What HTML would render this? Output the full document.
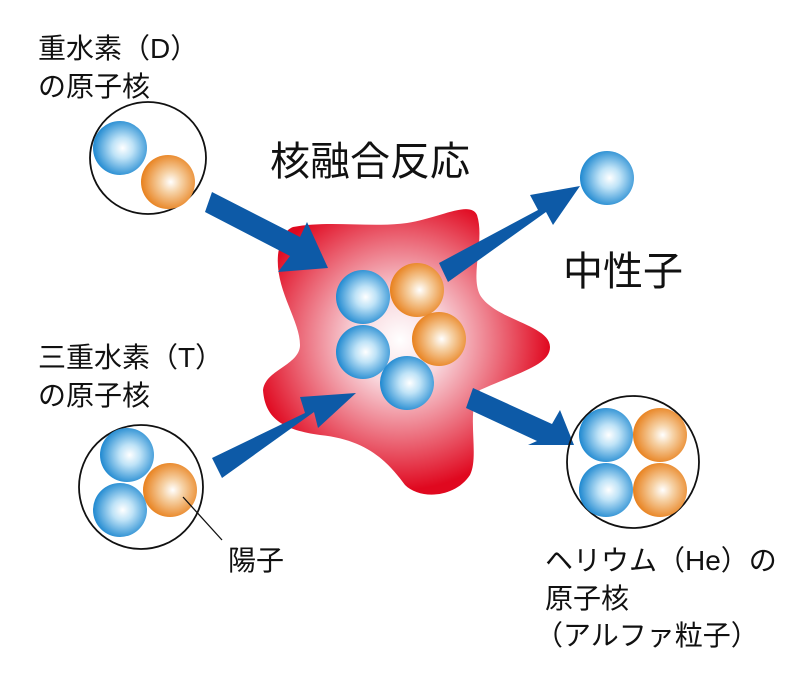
<!DOCTYPE html>
<html><head><meta charset="utf-8"><style>
html,body{margin:0;padding:0;background:#fff}
svg{display:block}
text{font-family:"Liberation Sans","Noto Sans CJK JP",sans-serif;fill:#111}
</style></head><body>
<svg width="800" height="679" viewBox="0 0 800 679" xmlns="http://www.w3.org/2000/svg">
<defs>
<radialGradient id="b" cx="0.55" cy="0.5" r="0.55"><stop offset="0" stop-color="#fff"/><stop offset="0.35" stop-color="#bfe3f7"/><stop offset="1" stop-color="#1e88d0"/></radialGradient>
<radialGradient id="o" cx="0.55" cy="0.5" r="0.55"><stop offset="0" stop-color="#fff"/><stop offset="0.35" stop-color="#f6d2a6"/><stop offset="1" stop-color="#e8801c"/></radialGradient>
<radialGradient id="r" cx="400" cy="340" r="150" gradientUnits="userSpaceOnUse"><stop offset="0" stop-color="#fff"/><stop offset="0.3" stop-color="#f8d6dc"/><stop offset="1" stop-color="#e0081f"/></radialGradient>
<symbol id="B" viewBox="-27 -27 54 54"><circle r="27" fill="url(#b)"/></symbol>
<symbol id="O" viewBox="-27 -27 54 54"><circle r="27" fill="url(#o)"/></symbol>
</defs>
<path fill="url(#r)" d="M293,227 C330,220 370,228 407,223 C440,218 470,200 477,215 C485,240 470,275 480,295 C495,320 550,325 550,347 C550,365 520,372 480,390 C465,410 480,455 470,475 C455,498 420,500 405,485 C390,465 370,440 320,435 C285,430 265,420 263,390 C265,370 300,365 300,345 C300,320 275,290 278,255 C280,240 285,230 293,227Z"/>
<g fill="#0d5aa7">
<polygon points="205,212 212,192 300,237 307,222 328,268 278,272 290,256"/>
<polygon points="222,478 212,458 305,413 300,397 356,393 318,428 314,412"/>
<polygon points="448,282 439,263 538,210 530,195 580,186 553,225 546,212"/>
<polygon points="466,408 473,388 552,424 560,410 574,445 528,445 537,441"/>
</g>
<ellipse cx="148" cy="158" rx="58" ry="56" fill="none" stroke="#111" stroke-width="1.8"/>
<use href="#B" x="93" y="121" width="54" height="54"/>
<use href="#O" x="141" y="155" width="54" height="54"/>
<use href="#B" x="580" y="151" width="54" height="54"/>
<circle cx="141" cy="487" r="62" fill="none" stroke="#111" stroke-width="1.8"/>
<use href="#B" x="100" y="428" width="54" height="54"/>
<use href="#O" x="143" y="463" width="54" height="54"/>
<use href="#B" x="93" y="483" width="54" height="54"/>
<line x1="183" y1="497" x2="222" y2="540" stroke="#111" stroke-width="1.3"/>
<circle cx="633" cy="462" r="66" fill="none" stroke="#111" stroke-width="1.8"/>
<use href="#B" x="579" y="408" width="54" height="54"/>
<use href="#O" x="633" y="408" width="54" height="54"/>
<use href="#B" x="579" y="463" width="54" height="54"/>
<use href="#O" x="633" y="463" width="54" height="54"/>
<use href="#B" x="336" y="270" width="54" height="54"/>
<use href="#O" x="390" y="263" width="54" height="54"/>
<use href="#B" x="336" y="325" width="54" height="54"/>
<use href="#O" x="412" y="312" width="54" height="54"/>
<use href="#B" x="380" y="356" width="54" height="54"/>
<text x="38" y="58" font-size="28">重水素（D）</text>
<text x="38" y="96" font-size="28">の原子核</text>
<text x="270" y="175" font-size="40">核融合反応</text>
<text x="563" y="285" font-size="40">中性子</text>
<text x="38" y="367" font-size="28">三重水素（T）</text>
<text x="38" y="405" font-size="28">の原子核</text>
<text x="228" y="570" font-size="28">陽子</text>
<text x="545" y="570" font-size="28">ヘリウム（He）の</text>
<text x="545" y="608" font-size="28">原子核</text>
<text x="535" y="645" font-size="28">（アルファ粒子）</text>
</svg>
</body></html>
